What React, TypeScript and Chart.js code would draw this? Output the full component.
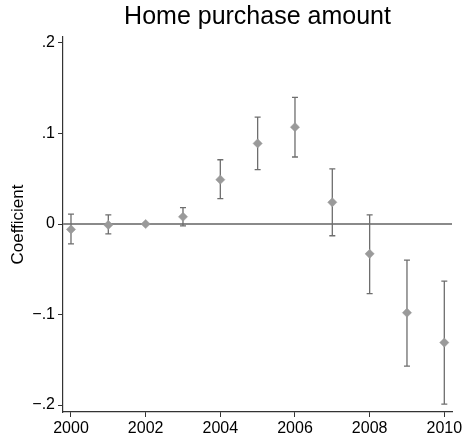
import React, { useEffect, useRef } from "react";
import { Chart, registerables } from "chart.js";

Chart.register(...registerables);

// Event-study coefficients with 95% confidence bounds
const years = [2000, 2001, 2002, 2003, 2004, 2005, 2006, 2007, 2008, 2009, 2010];
const coef = [-0.006, -0.001, 0.0, 0.008, 0.049, 0.089, 0.107, 0.024, -0.033, -0.098, -0.131];
const ciLow = [-0.022, -0.011, 0.0, -0.002, 0.028, 0.06, 0.074, -0.013, -0.077, -0.157, -0.199];
const ciHigh = [0.011, 0.01, 0.0, 0.018, 0.071, 0.118, 0.14, 0.061, 0.01, -0.04, -0.063];

const xTickValues = [2000, 2002, 2004, 2006, 2008, 2010];
const yTickValues = [-0.2, -0.1, 0, 0.1, 0.2];
const yTickLabels = ["\u2212.2", "\u2212.1", "0", ".1", ".2"];

const FONT = "'Liberation Sans', Arial, Helvetica, sans-serif";

// Horizontal reference line at zero plus capped confidence intervals
const intervalPlugin = {
  id: "intervals",
  beforeDatasetsDraw(chart: any) {
    const { ctx, chartArea, scales } = chart;
    const xs = scales.x;
    const ys = scales.y;
    ctx.save();
    const y0 = ys.getPixelForValue(0);
    ctx.strokeStyle = "#8a8a8a";
    ctx.lineWidth = 1.8;
    ctx.beginPath();
    ctx.moveTo(chartArea.left, y0);
    ctx.lineTo(chartArea.right, y0);
    ctx.stroke();

    ctx.strokeStyle = "#6e6e6e";
    ctx.lineWidth = 1.3;
    const cap = 3;
    years.forEach((yr, i) => {
      if (ciLow[i] === ciHigh[i]) return;
      const px = xs.getPixelForValue(yr);
      const pLo = ys.getPixelForValue(ciLow[i]);
      const pHi = ys.getPixelForValue(ciHigh[i]);
      ctx.beginPath();
      ctx.moveTo(px, pLo);
      ctx.lineTo(px, pHi);
      ctx.moveTo(px - cap, pLo);
      ctx.lineTo(px + cap, pLo);
      ctx.moveTo(px - cap, pHi);
      ctx.lineTo(px + cap, pHi);
      ctx.stroke();
    });
    ctx.restore();
  },
};

export default function App() {
  const canvasRef = useRef<HTMLCanvasElement | null>(null);

  useEffect(() => {
    const canvas = canvasRef.current;
    if (!canvas) return;
    const chart = new Chart(canvas, {
      type: "scatter",
      data: {
        datasets: [
          {
            label: "Coefficient",
            data: years.map((yr, i) => ({ x: yr, y: coef[i] })),
            pointStyle: "rectRot",
            pointRadius: 4.6,
            pointBackgroundColor: "#9a9a9a",
            pointBorderColor: "#9a9a9a",
            pointBorderWidth: 0.5,
            showLine: false,
          },
        ],
      },
      options: {
        animation: false,
        responsive: false,
        devicePixelRatio: 1,
        layout: { padding: { left: 0, right: 13, top: 0, bottom: 0 } },
        plugins: {
          legend: { display: false },
          tooltip: { enabled: false },
          title: {
            display: true,
            text: "Home purchase amount",
            fullSize: false,
            color: "#000",
            font: { family: FONT, size: 25, weight: "normal" },
            padding: { top: 2, bottom: 5 },
          },
        },
        scales: {
          x: {
            type: "linear",
            min: 1999.786,
            max: 2010.206,
            afterBuildTicks: (scale: any) => {
              scale.ticks = xTickValues.map((v) => ({ value: v }));
            },
            afterFit: (scale: any) => {
              scale.height = 22;
              scale.paddingLeft = 0;
              scale.paddingRight = 0;
            },
            ticks: {
              color: "#000",
              font: { family: FONT, size: 16 },
              padding: 2,
              maxRotation: 0,
              autoSkip: false,
              callback: (v: any) => String(v),
            },
            grid: {
              drawOnChartArea: false,
              drawTicks: true,
              tickLength: 5,
              color: "#333",
            },
            border: { display: true, color: "#333", width: 1.2 },
          },
          y: {
            type: "linear",
            min: -0.2077,
            max: 0.2066,
            afterBuildTicks: (scale: any) => {
              scale.ticks = yTickValues.map((v) => ({ value: v }));
            },
            afterFit: (scale: any) => {
              scale.width = 63;
              scale.paddingTop = 0;
              scale.paddingBottom = 0;
            },
            ticks: {
              color: "#000",
              font: { family: FONT, size: 16 },
              padding: 3,
              autoSkip: false,
              callback: (_v: any, i: number) => yTickLabels[i],
            },
            grid: {
              drawOnChartArea: false,
              drawTicks: true,
              tickLength: 5,
              color: "#333",
            },
            border: { display: true, color: "#333", width: 1.2 },
            title: {
              display: true,
              text: "Coefficient",
              color: "#000",
              font: { family: FONT, size: 17 },
              padding: { top: 8, bottom: 0 },
            },
          },
        },
      },
      plugins: [intervalPlugin],
    } as any);
    return () => chart.destroy();
  }, []);

  return (
    <div style={{ position: "fixed", left: 0, top: 0, width: 465, height: 434, background: "#fff" }}>
      <canvas ref={canvasRef} width={465} height={434} style={{ width: 465, height: 434, display: "block" }} />
    </div>
  );
}
